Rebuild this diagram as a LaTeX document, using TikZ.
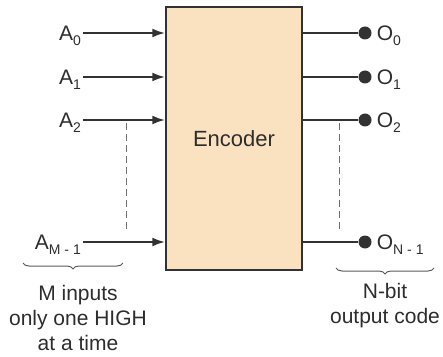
\documentclass[tikz,border=0pt]{standalone}
\usepackage{fontspec}
\setmainfont{Liberation Sans}
\usepackage{tikz}
\usetikzlibrary{arrows.meta,calc,positioning,decorations.pathreplacing}
\definecolor{encfill}{RGB}{250,226,193}
\definecolor{encline}{RGB}{50,50,50}
\definecolor{enctext}{RGB}{45,45,45}
\newcommand{\lsub}[1]{\raisebox{-0.22em}{\fontsize{14}{14}\selectfont #1}}

\begin{document}
\begin{tikzpicture}[x=1pt, y=1pt,
      encbox/.style={draw=encline, fill=encfill, line width=1.5pt, minimum width=136pt, minimum height=263pt, inner sep=0pt, font=\fontsize{22}{26}\selectfont, text=enctext},
      pinlbl/.style={inner sep=2pt, text height=15pt, text depth=0pt, font=\fontsize{21}{25}\selectfont, text=enctext},
      inwire/.style={line width=2.3pt, draw=encline, -{Latex[length=13pt, width=9pt]}},
      outwire/.style={line width=2.3pt, draw=encline},
      pindot/.style={circle, fill=encline, minimum size=13pt, inner sep=0pt},
      gap/.style={dashed, dash pattern=on 7pt off 4pt, draw=encline!70, line width=1pt},
      brc/.style={decorate, decoration={brace, mirror, amplitude=6pt}, draw=encline!80, line width=1pt},
      note/.style={align=center, font=\fontsize{21}{25}\selectfont, text=enctext, inner sep=0pt}
    ]
      \useasboundingbox (0,0) rectangle (443,356);

      % Encoder block
      \node[encbox] (enc) at (234,217.5) {Encoder};

      % Inputs
      \node[pinlbl, anchor=east] (a0) at (83,323) {A\lsub{0}};
      \node[pinlbl, anchor=east] (a1) at (83,279) {A\lsub{1}};
      \node[pinlbl, anchor=east] (a2) at (83,236) {A\lsub{2}};
      \node[pinlbl, anchor=east] (am) at (83,114) {A\lsub{M - 1}};
      \draw[inwire] (a0.east) -- (a0.east -| enc.west);
      \draw[inwire] (a1.east) -- (a1.east -| enc.west);
      \draw[inwire] (a2.east) -- (a2.east -| enc.west);
      \draw[inwire] (am.east) -- (am.east -| enc.west);

      % Outputs
      \node[pindot] (d0) at (365,323) {};
      \node[pindot] (d1) at (365,279) {};
      \node[pindot] (d2) at (365,236) {};
      \node[pindot] (dn) at (365,114) {};
      \node[pinlbl, anchor=west, right=3pt of d0] (o0) {O\lsub{0}};
      \node[pinlbl, anchor=west, right=3pt of d1] (o1) {O\lsub{1}};
      \node[pinlbl, anchor=west, right=3pt of d2] (o2) {O\lsub{2}};
      \node[pinlbl, anchor=west, right=3pt of dn] (on) {O\lsub{N - 1}};
      \draw[outwire] (enc.east |- d0) -- (d0);
      \draw[outwire] (enc.east |- d1) -- (d1);
      \draw[outwire] (enc.east |- d2) -- (d2);
      \draw[outwire] (enc.east |- dn) -- (dn);

      % Dashed gaps
      \coordinate (gl1) at (126,233);
      \coordinate (gl2) at (126,124);
      \coordinate (gr1) at (339,233);
      \coordinate (gr2) at (339,124);
      \draw[gap] (gl1) -- (gl2);
      \draw[gap] (gr1) -- (gr2);

      % Braces and notes
      \coordinate (bl1) at (23,93);
      \coordinate (bl2) at (123,93);
      \coordinate (br1) at (336,88);
      \coordinate (br2) at (434,88);
      \draw[brc] (bl1) -- (bl2);
      \draw[brc] (br1) -- (br2);
      \node[note] (mnote) at (78,38) {M inputs\\only one HIGH\\at a time};
      \node[note] (nnote) at (385,50.5) {N-bit\\output code};
    \end{tikzpicture}
\end{document}
